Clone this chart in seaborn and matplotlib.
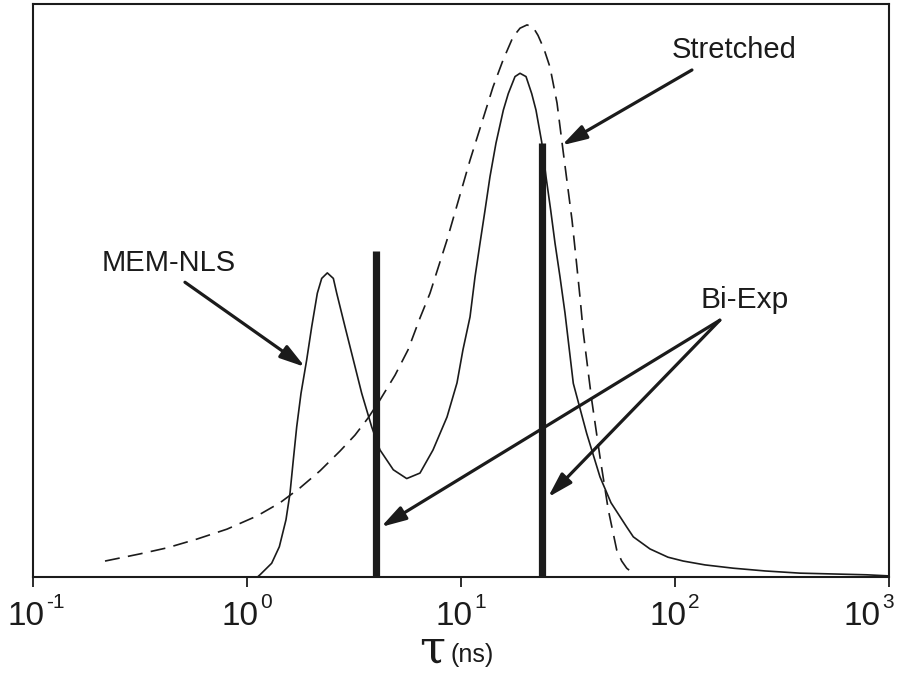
import numpy as np
import pandas as pd
import matplotlib
matplotlib.use("Agg")
import matplotlib.pyplot as plt
import matplotlib.transforms as mtransforms
import seaborn as sns

# Lifetime distributions (tau in ns, amplitude in arbitrary units)
stretched_tau = [0.217, 0.316, 0.423, 0.584, 0.806, 1.114, 1.426, 1.768, 2.193, 2.720,
                 3.196, 3.677, 4.183, 4.917, 5.654, 6.432, 7.163, 8.604, 11.02, 14.11,
                 15.72, 17.50, 18.87, 20.35, 21.70, 22.90, 24.43, 26.06, 28.10, 29.97,
                 33.02, 34.47, 35.98, 37.29, 40.81, 44.62, 48.79, 53.42, 56.36, 59.47,
                 65.04]
stretched_amp = [2.9, 4.2, 5.3, 6.9, 8.7, 11.1, 13.5, 16.2, 19.3, 22.9,
                 25.8, 28.9, 32.2, 36.7, 41.3, 47.1, 51.6, 61.3, 75.8, 89.1,
                 94.0, 98.2, 99.8, 100.4, 100.0, 98.5, 96.0, 92.7, 86.2, 77.6,
                 64.9, 58.0, 50.9, 44.4, 32.2, 21.8, 12.2, 4.9, 2.9, 1.6,
                 0.4]

mem_tau = [1.12, 1.150, 1.304, 1.416, 1.521, 1.588, 1.646, 1.707, 1.788, 1.901,
           2.006, 2.131, 2.234, 2.373, 2.532, 2.626, 2.871, 3.139, 3.436, 3.825,
           4.183, 4.827, 5.576, 6.432, 7.399, 8.604, 9.579, 10.21, 11.02, 11.63,
           12.27, 12.95, 13.66, 14.57, 15.77, 16.63, 17.88, 18.87, 20.13, 21.40,
           22.41, 23.83, 24.96, 26.25, 27.50, 29.01, 30.62, 33.48, 38.67, 44.62,
           50.23, 59.47, 63.86, 76.42, 92.74, 109.3, 138.1, 187.3, 263.5, 383.8,
           786.6, 1000.0]
mem_amp = [0.0, 0.4, 2.5, 5.5, 10.4, 15.2, 21.3, 27.3, 33.4, 39.5,
           45.5, 51.6, 54.3, 55.3, 54.3, 51.6, 45.5, 39.5, 33.4, 27.3,
           23.1, 19.5, 17.9, 18.9, 23.1, 29.1, 35.3, 41.3, 47.3, 54.6,
           60.7, 66.7, 72.8, 78.9, 84.9, 87.9, 91.0, 91.6, 91.0, 87.9,
           84.9, 79.1, 72.8, 66.7, 60.7, 54.6, 48.0, 35.2, 26.1, 18.2,
           13.5, 9.1, 7.3, 5.1, 3.6, 2.9, 2.2, 1.6, 1.1, 0.7,
           0.4, 0.2]

biexp_tau = [4.0, 24.0]
biexp_amp = [59.3, 78.9]

decades = [0.1, 1, 10, 100, 1000]
decade_exp = ["-1", "0", "1", "2", "3"]

labels = ["MEM-NLS", "Stretched", "Bi-Exp"]

sns.set_theme(style="white")
plt.rcParams["font.family"] = ["Liberation Sans", "DejaVu Sans"]

ink = "#1b1b1b"

fig = plt.figure(figsize=(9.08, 6.73), dpi=100)
ax = fig.add_axes([33 / 908, 96 / 673, (889 - 33) / 908, (577 - 4) / 673])

df_str = pd.DataFrame({"tau": stretched_tau, "amp": stretched_amp})
df_mem = pd.DataFrame({"tau": mem_tau, "amp": mem_amp})

sns.lineplot(data=df_mem, x="tau", y="amp", ax=ax, color=ink, lw=1.2,
             sort=False, estimator=None)
sns.lineplot(data=df_str, x="tau", y="amp", ax=ax, color=ink, lw=1.2,
             sort=False, estimator=None)
ax.lines[-1].set_dashes((9, 5))
for ln in ax.lines:
    ln.set_solid_joinstyle("round")
    ln.set_dash_joinstyle("round")

ax.vlines(biexp_tau, 0, biexp_amp, colors=ink, lw=5.2)

ax.set_xscale("log")
ax.set_xlim(0.1, 1000)
ax.set_ylim(0, 104.2)
ax.set_yticks([])
ax.set_xticks(decades)
ax.set_xticklabels([])
ax.xaxis.set_minor_locator(matplotlib.ticker.NullLocator())
ax.tick_params(axis="x", which="major", direction="out", length=7, width=1.3,
               color=ink, bottom=True)
ax.set_xlabel("")
ax.set_ylabel("")
for s in ax.spines.values():
    s.set_color(ink)
    s.set_linewidth(1.5)

# Decade labels: mantissa "10" with a raised exponent
xtrans = ax.get_xaxis_transform()
for i, (t, e) in enumerate(zip(decades, decade_exp)):
    shift = -20 if i == len(decades) - 1 else 0
    base = mtransforms.offset_copy(xtrans, fig=fig, x=11 + shift, y=-48, units="dots")
    sup = mtransforms.offset_copy(xtrans, fig=fig, x=13 + shift, y=-31, units="dots")
    ax.text(t, 0, "10", transform=base, fontsize=24, ha="right", va="baseline",
            color=ink)
    ax.text(t, 0, e, transform=sup, fontsize=15, ha="left", va="baseline",
            color=ink)

# Axis title: tau with the unit in smaller type
fig.text(432 / 908, 11 / 673, "τ", family=["DejaVu Serif"],
         fontsize=34, ha="center", va="baseline", color=ink)
fig.text(451 / 908, 11 / 673, "(ns)", fontsize=18, ha="left", va="baseline",
         color=ink)

arrow = dict(arrowstyle="-|>,head_length=0.75,head_width=0.22", color=ink,
             lw=2.3, shrinkA=0, shrinkB=0, mutation_scale=20)

ax.text(0.432, 57.1, labels[0], fontsize=21, ha="center", va="center", color=ink)
ax.annotate("", xy=(1.866, 38.2), xytext=(0.513, 53.6), arrowprops=arrow)

ax.text(189, 95.8, labels[1], fontsize=21, ha="center", va="center", color=ink)
ax.annotate("", xy=(29.6, 78.5), xytext=(120, 92.2), arrowprops=arrow)

ax.text(212, 50.4, labels[2], fontsize=21.5, ha="center", va="center", color=ink)
ax.annotate("", xy=(4.23, 9.1), xytext=(162, 46.7), arrowprops=arrow)
ax.annotate("", xy=(25.5, 14.5), xytext=(162, 46.7), arrowprops=arrow)

fig.savefig("out.png", dpi=100)
